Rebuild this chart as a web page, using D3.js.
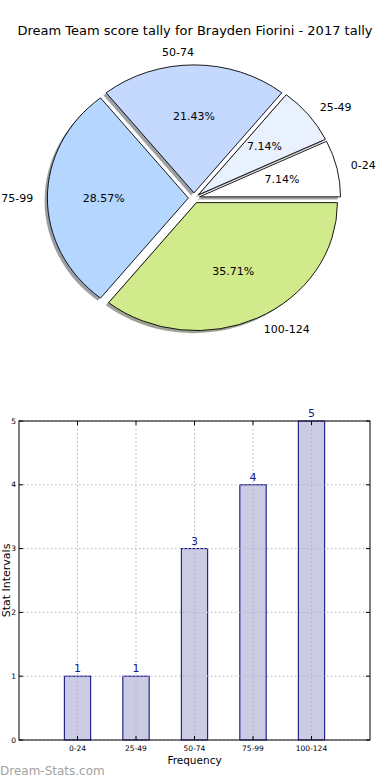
<!DOCTYPE html>
<html lang="en">
<head>
<meta charset="utf-8">
<title>Dream Team score tally</title>
<script src="https://cdn.jsdelivr.net/npm/d3@7"></script>
<style>
  body { margin: 0; background: #fff; }
  svg { display: block; font-family: "DejaVu Sans", sans-serif; }
  .wedge { stroke: #000; stroke-width: 0.9; }
  .grid line { stroke: #b4b4b4; stroke-width: 1; stroke-dasharray: 1.5,2.5; }
  .tick-mark { stroke: #000; stroke-width: 1; }
</style>
</head>
<body>
<script>
// data
var categories = ["0-24", "25-49", "50-74", "75-99", "100-124"];
var counts = [1, 1, 3, 4, 5];
var sliceColors = ["#ffffff", "#e9f1ff", "#c5d9ff", "#b5d6ff", "#d0ea8c"];
var yTicks = [0, 1, 2, 3, 4, 5];
var titleText = "Dream Team score tally for Brayden Fiorini - 2017 tally";

var W = 390, H = 780;
var svg = d3.select("body").append("svg")
  .attr("width", W).attr("height", H);

// title
svg.append("text")
  .attr("x", 195).attr("y", 30)
  .attr("dominant-baseline", "central")
  .attr("text-anchor", "middle")
  .style("font-size", "13px")
  .text(titleText);

// ---------- pie (elliptical, exploded, shadowed) ----------
var cx = 194, cy = 198, Rx = 141, Ry = 128;
var explode = 0.04;

var pie = d3.pie().sort(null)
  .startAngle(Math.PI / 2)
  .endAngle(Math.PI / 2 - 2 * Math.PI);
var arcs = pie(counts);
var total = d3.sum(counts);

var arc = d3.arc().innerRadius(0).outerRadius(1);

function mid(d) { return (d.startAngle + d.endAngle) / 2; }

var pieG = svg.append("g")
  .attr("transform", "translate(" + cx + "," + cy + ") scale(" + Rx + "," + Ry + ")");

// shadows first
pieG.selectAll(".shadow").data(arcs).enter().append("path")
  .attr("class", "shadow")
  .attr("d", arc)
  .attr("transform", function(d) {
    var a = mid(d);
    return "translate(" + (explode * Math.sin(a) - 0.02) + "," + (-explode * Math.cos(a) + 0.02) + ")";
  })
  .style("fill", function(d, i) {
    var c = d3.rgb(sliceColors[i]);
    return d3.rgb(c.r * 0.3, c.g * 0.3, c.b * 0.3).toString();
  })
  .style("fill-opacity", 0.5);

pieG.selectAll(".wedge").data(arcs).enter().append("path")
  .attr("class", "wedge")
  .attr("d", arc)
  .attr("vector-effect", "non-scaling-stroke")
  .attr("transform", function(d) {
    var a = mid(d);
    return "translate(" + (explode * Math.sin(a)) + "," + (-explode * Math.cos(a)) + ")";
  })
  .style("fill", function(d, i) { return sliceColors[i]; });

// outer labels
svg.selectAll(".plabel").data(arcs).enter().append("text")
  .attr("class", "plabel")
  .attr("x", function(d) { return cx + (explode + 1.1) * Rx * Math.sin(mid(d)); })
  .attr("y", function(d) { return cy - (explode + 1.1) * Ry * Math.cos(mid(d)); })
  .attr("dominant-baseline", "central")
  .attr("text-anchor", function(d) { return Math.sin(mid(d)) > 0.001 ? "start" : "end"; })
  .style("font-size", "11px")
  .text(function(d, i) { return categories[i]; });

// percentage labels
svg.selectAll(".pct").data(arcs).enter().append("text")
  .attr("class", "pct")
  .attr("x", function(d) { return cx + (explode + 0.6) * Rx * Math.sin(mid(d)); })
  .attr("y", function(d) { return cy - (explode + 0.6) * Ry * Math.cos(mid(d)); })
  .attr("dominant-baseline", "central")
  .attr("text-anchor", "middle")
  .style("font-size", "11px")
  .text(function(d) { return (d.value / total * 100).toFixed(2) + "%"; });

// ---------- bar chart ----------
var plotL = 19, plotR = 370, plotT = 421, plotB = 740;
var x = d3.scaleLinear().domain([-1, 5]).range([plotL, plotR]);
var y = d3.scaleLinear().domain([0, 5]).range([plotB, plotT]);
var barW = 0.45;
var idx = d3.range(categories.length);

svg.selectAll(".bar").data(counts).enter().append("rect")
  .attr("class", "bar")
  .attr("x", function(d, i) { return x(i - barW / 2); })
  .attr("width", function() { return x(barW) - x(0); })
  .attr("y", function(d) { return y(d); })
  .attr("height", function(d) { return y(0) - y(d); })
  .style("fill", "#cbcbe3")
  .style("stroke", "#000080")
  .style("stroke-width", 1);

// dotted grid above the bars
var grid = svg.append("g").attr("class", "grid");
grid.selectAll(".gx").data(idx).enter().append("line")
  .attr("x1", function(d) { return x(d); }).attr("x2", function(d) { return x(d); })
  .attr("y1", plotT).attr("y2", plotB);
grid.selectAll(".gy").data(yTicks).enter().append("line")
  .attr("x1", plotL).attr("x2", plotR)
  .attr("y1", function(d) { return y(d); }).attr("y2", function(d) { return y(d); });

svg.selectAll(".val").data(counts).enter().append("text")
  .attr("class", "val")
  .attr("x", function(d, i) { return x(i); })
  .attr("y", function(d) { return y(d) - 4; })
  .attr("text-anchor", "middle")
  .style("font-size", "11px")
  .style("fill", "#1a1a90")
  .text(function(d) { return d; });

// ticks inward on all sides
var tk = svg.append("g");
idx.forEach(function(i) {
  tk.append("line").attr("class", "tick-mark")
    .attr("x1", x(i)).attr("x2", x(i)).attr("y1", plotB).attr("y2", plotB - 4);
  tk.append("line").attr("class", "tick-mark")
    .attr("x1", x(i)).attr("x2", x(i)).attr("y1", plotT).attr("y2", plotT + 4);
});
yTicks.forEach(function(v) {
  tk.append("line").attr("class", "tick-mark")
    .attr("x1", plotL).attr("x2", plotL + 4).attr("y1", y(v)).attr("y2", y(v));
  tk.append("line").attr("class", "tick-mark")
    .attr("x1", plotR).attr("x2", plotR - 4).attr("y1", y(v)).attr("y2", y(v));
});

// frame
svg.append("rect")
  .attr("x", plotL).attr("y", plotT)
  .attr("width", plotR - plotL).attr("height", plotB - plotT)
  .style("fill", "none").style("stroke", "#000").style("stroke-width", 1);

// tick labels
svg.selectAll(".xtl").data(categories).enter().append("text")
  .attr("x", function(d, i) { return x(i); })
  .attr("y", plotB + 8)
  .attr("dominant-baseline", "central")
  .attr("text-anchor", "middle")
  .style("font-size", "7.5px")
  .text(function(d) { return d; });

svg.selectAll(".ytl").data(yTicks).enter().append("text")
  .attr("x", plotL - 3)
  .attr("y", function(d) { return y(d); })
  .attr("dominant-baseline", "central")
  .attr("text-anchor", "end")
  .style("font-size", "7.5px")
  .text(function(d) { return d; });

// axis labels
svg.append("text")
  .attr("x", (plotL + plotR) / 2).attr("y", 760)
  .attr("dominant-baseline", "central")
  .attr("text-anchor", "middle")
  .style("font-size", "10.5px")
  .text("Frequency");

svg.append("text")
  .attr("transform", "translate(9.5," + ((plotT + plotB) / 2) + ") rotate(-90)")
  .attr("text-anchor", "middle")
  .style("font-size", "11px")
  .text("Stat Intervals");

// watermark
svg.append("text")
  .attr("x", 0).attr("y", 775)
  .style("font-size", "12px")
  .style("fill", "#a3a3a3")
  .text("Dream-Stats.com");
</script>
</body>
</html>
